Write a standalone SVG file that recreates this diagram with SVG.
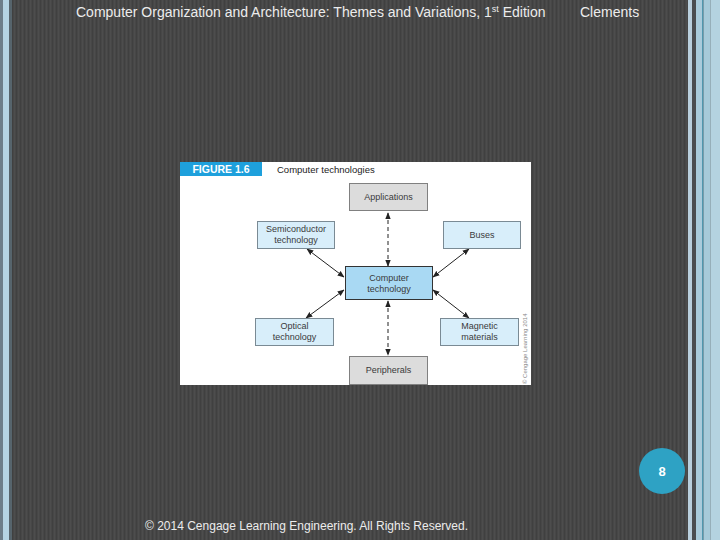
<svg xmlns="http://www.w3.org/2000/svg" width="720" height="540" viewBox="0 0 720 540">
<defs>
<pattern id="stripes" x="0" y="0" width="4" height="8" patternUnits="userSpaceOnUse">
<rect width="4" height="8" fill="#474747"/>
<rect width="1" height="8" fill="#404040"/>
<rect x="2" width="1" height="8" fill="#4d4d4d"/>
</pattern>
<marker id="ah" viewBox="0 0 10 10" refX="9" refY="5" markerWidth="7" markerHeight="7" orient="auto-start-reverse" markerUnits="userSpaceOnUse">
<path d="M0,1 L10,5 L0,9 Z" fill="#222"/>
</marker>
<style>
.hdr{font-family:"Liberation Sans",Arial,sans-serif;fill:#ececec}
.lbl{font-family:"Liberation Sans",Arial,sans-serif;font-size:9px;fill:#3a3a3a;text-anchor:middle}
.gray{fill:#dcdcdc;stroke:#808080;stroke-width:1}
.lb{fill:#d8eefa;stroke:#7a8a94;stroke-width:1}
.ctr{fill:#a9d9f3;stroke:#333;stroke-width:1}
.solid{stroke:#222;stroke-width:1;fill:none}
.dash{stroke:#222;stroke-width:1;fill:none;stroke-dasharray:4,3}
</style>
</defs>
<rect width="720" height="540" fill="url(#stripes)"/>
<rect x="0" y="0" width="3" height="540" fill="#6c7e8a"/>
<rect x="3" y="0" width="6" height="540" fill="#b4d4e4"/>
<rect x="9" y="0" width="3" height="540" fill="#56646c"/>
<rect x="688" y="0" width="4" height="540" fill="#b9cfdd"/>
<rect x="692" y="0" width="4" height="540" fill="#4a4d50"/>
<rect x="696" y="0" width="6" height="540" fill="#a9cbdb"/>
<rect x="702" y="0" width="1.5" height="540" fill="#4f97ae"/>
<rect x="703.5" y="0" width="7" height="540" fill="#a6cad9"/>
<rect x="710.5" y="0" width="9.5" height="540" fill="#b4d3e0"/>

<text class="hdr" x="76" y="17" font-size="14">Computer Organization and Architecture: Themes and Variations, 1<tspan font-size="9" dy="-5">st</tspan><tspan dy="5"> Edition</tspan></text>
<text class="hdr" x="580" y="17" font-size="14">Clements</text>
<text class="hdr" x="145" y="530" font-size="12">© 2014 Cengage Learning Engineering. All Rights Reserved.</text>

<g id="page-number">
<circle cx="662" cy="471" r="23" fill="#2ea2c4"/>
<text x="662" y="476" font-family="'Liberation Sans',Arial,sans-serif" font-size="13" font-weight="bold" fill="#fff" text-anchor="middle">8</text>
</g>

<g id="figure">
<rect x="180" y="162" width="351" height="223" fill="#ffffff"/>
<rect x="180" y="162" width="82" height="14" fill="#1ea0dc"/>
<text x="221" y="173" font-family="'Liberation Sans',Arial,sans-serif" font-size="10.5" font-weight="bold" fill="#fff" text-anchor="middle">FIGURE 1.6</text>
<text x="277" y="173" font-family="'Liberation Sans',Arial,sans-serif" font-size="9.5" fill="#222">Computer technologies</text>
<text transform="translate(527,384) rotate(-90)" font-family="'Liberation Sans',Arial,sans-serif" font-size="6" fill="#888">© Cengage Learning 2014</text>
</g>

<g id="connectors">
<line class="dash" x1="388" y1="213" x2="388" y2="266" marker-start="url(#ah)" marker-end="url(#ah)"/>
<line class="dash" x1="388" y1="301" x2="388" y2="355" marker-start="url(#ah)" marker-end="url(#ah)"/>
<line class="solid" x1="307" y1="249" x2="344" y2="277" marker-start="url(#ah)" marker-end="url(#ah)"/>
<line class="solid" x1="469" y1="249" x2="433" y2="277" marker-start="url(#ah)" marker-end="url(#ah)"/>
<line class="solid" x1="306" y1="318" x2="344" y2="290" marker-start="url(#ah)" marker-end="url(#ah)"/>
<line class="solid" x1="433" y1="290" x2="469" y2="318" marker-start="url(#ah)" marker-end="url(#ah)"/>
</g>

<g id="applications">
<rect class="gray" x="349.5" y="183.5" width="78" height="27"/>
<text class="lbl" x="388.5" y="200">Applications</text>
</g>
<g id="semiconductor">
<rect class="lb" x="257.5" y="221.5" width="77" height="27"/>
<text class="lbl" x="296" y="232">Semiconductor</text>
<text class="lbl" x="296" y="243">technology</text>
</g>
<g id="buses">
<rect class="lb" x="443.5" y="221.5" width="77" height="27"/>
<text class="lbl" x="482" y="238">Buses</text>
</g>
<g id="computer-technology">
<rect class="ctr" x="345.5" y="266.5" width="87" height="33"/>
<text class="lbl" x="389" y="281">Computer</text>
<text class="lbl" x="389" y="292">technology</text>
</g>
<g id="optical">
<rect class="lb" x="255.5" y="318.5" width="78" height="27"/>
<text class="lbl" x="294.5" y="329">Optical</text>
<text class="lbl" x="294.5" y="340">technology</text>
</g>
<g id="magnetic">
<rect class="lb" x="440.5" y="318.5" width="78" height="27"/>
<text class="lbl" x="479.5" y="329">Magnetic</text>
<text class="lbl" x="479.5" y="340">materials</text>
</g>
<g id="peripherals">
<rect class="gray" x="349.5" y="356.5" width="78" height="28"/>
<text class="lbl" x="388.5" y="373">Peripherals</text>
</g>
</svg>
